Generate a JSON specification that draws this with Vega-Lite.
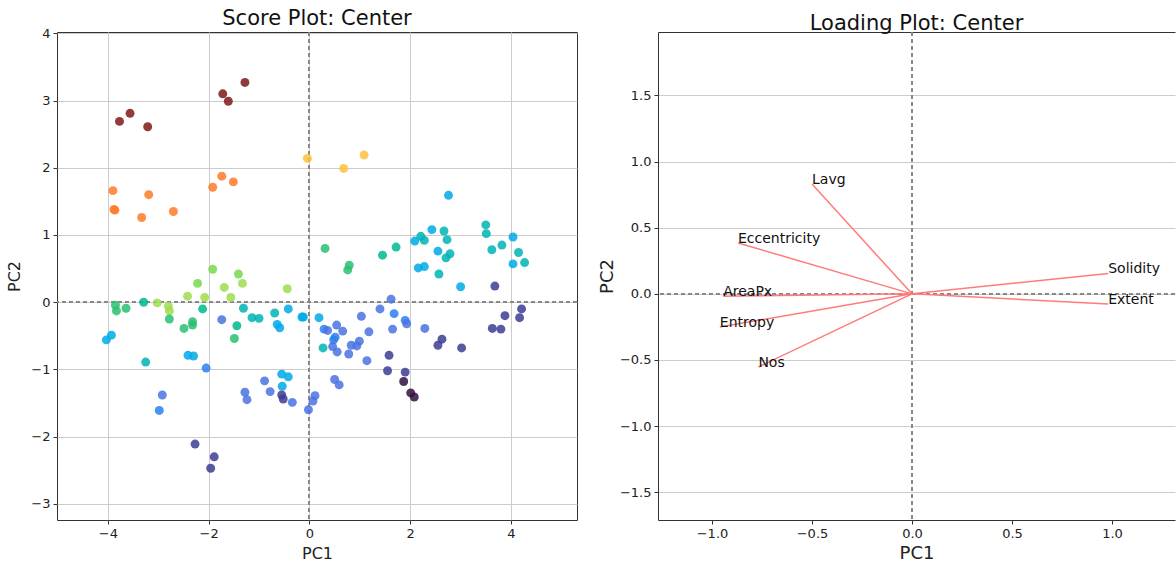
{
  "$schema": "https://vega.github.io/schema/vega-lite/v6.json",
  "padding": {"left": 6, "top": 7, "right": 0, "bottom": 0},
  "background": "white",
  "config": {
    "font": "DejaVu Sans",
    "view": {"stroke": "#333333", "strokeWidth": 1},
    "axis": {"domain": false, "grid": true, "gridColor": "#cccccc", "gridWidth": 1, "tickColor": "#333333", "tickSize": 4, "labelFontSize": 13, "labelColor": "#222222", "labelPadding": 3, "titleFontWeight": "normal", "titleColor": "#222222", "labelFont": "DejaVu Sans", "titleFont": "DejaVu Sans"},
    "title": {"fontSize": 21, "fontWeight": "normal", "color": "#111111", "font": "DejaVu Sans", "baseline": "alphabetic", "offset": -2}
  },
  "datasets": {
    "scores": [
      {"PC1": -1.28, "PC2": 3.27, "value": 1.0}, {"PC1": -1.72, "PC2": 3.10, "value": 1.0}, {"PC1": -1.61, "PC2": 2.99, "value": 1.0},
      {"PC1": -3.56, "PC2": 2.81, "value": 1.0}, {"PC1": -3.77, "PC2": 2.69, "value": 1.0}, {"PC1": -3.21, "PC2": 2.61, "value": 1.0},
      {"PC1": -1.74, "PC2": 1.875, "value": 0.95}, {"PC1": -1.51, "PC2": 1.79, "value": 0.95}, {"PC1": -1.92, "PC2": 1.71, "value": 0.95},
      {"PC1": -3.90, "PC2": 1.66, "value": 0.95}, {"PC1": -3.19, "PC2": 1.60, "value": 0.95}, {"PC1": -3.88, "PC2": 1.38, "value": 0.95},
      {"PC1": -3.86, "PC2": 1.37, "value": 0.95}, {"PC1": -3.33, "PC2": 1.26, "value": 0.95}, {"PC1": -2.70, "PC2": 1.35, "value": 0.95},
      {"PC1": -0.04, "PC2": 2.14, "value": 0.9}, {"PC1": 0.68, "PC2": 1.99, "value": 0.9}, {"PC1": 1.085, "PC2": 2.19, "value": 0.9},
      {"PC1": -1.92, "PC2": 0.49, "value": 0.8}, {"PC1": -1.41, "PC2": 0.42, "value": 0.8}, {"PC1": -2.22, "PC2": 0.28, "value": 0.8},
      {"PC1": -1.33, "PC2": 0.28, "value": 0.85}, {"PC1": -1.69, "PC2": 0.22, "value": 0.85}, {"PC1": -2.42, "PC2": 0.09, "value": 0.85},
      {"PC1": -2.08, "PC2": 0.07, "value": 0.85}, {"PC1": -1.56, "PC2": 0.07, "value": 0.85}, {"PC1": -0.44, "PC2": 0.20, "value": 0.85},
      {"PC1": -3.02, "PC2": -0.01, "value": 0.85}, {"PC1": -2.80, "PC2": -0.06, "value": 0.85}, {"PC1": -2.78, "PC2": -0.13, "value": 0.85},
      {"PC1": -3.85, "PC2": -0.045, "value": 0.7}, {"PC1": -3.83, "PC2": -0.13, "value": 0.7}, {"PC1": -3.64, "PC2": -0.09, "value": 0.7},
      {"PC1": -2.78, "PC2": -0.25, "value": 0.7}, {"PC1": -2.32, "PC2": -0.29, "value": 0.7}, {"PC1": -2.32, "PC2": -0.34, "value": 0.7},
      {"PC1": -2.49, "PC2": -0.39, "value": 0.7}, {"PC1": -1.49, "PC2": -0.54, "value": 0.7}, {"PC1": 0.31, "PC2": 0.80, "value": 0.7},
      {"PC1": 0.79, "PC2": 0.55, "value": 0.7}, {"PC1": 0.76, "PC2": 0.48, "value": 0.7},
      {"PC1": -3.29, "PC2": 0.0, "value": 0.6}, {"PC1": -2.12, "PC2": -0.10, "value": 0.6}, {"PC1": -1.44, "PC2": -0.35, "value": 0.6},
      {"PC1": 1.72, "PC2": 0.82, "value": 0.6}, {"PC1": 1.45, "PC2": 0.70, "value": 0.6},
      {"PC1": -1.31, "PC2": -0.09, "value": 0.5}, {"PC1": -1.14, "PC2": -0.23, "value": 0.5}, {"PC1": -1.00, "PC2": -0.24, "value": 0.5},
      {"PC1": -0.69, "PC2": -0.16, "value": 0.5}, {"PC1": -3.25, "PC2": -0.89, "value": 0.5}, {"PC1": 0.27, "PC2": -0.68, "value": 0.5},
      {"PC1": 2.57, "PC2": 0.42, "value": 0.5}, {"PC1": 3.50, "PC2": 1.15, "value": 0.5}, {"PC1": 3.51, "PC2": 1.02, "value": 0.5},
      {"PC1": 3.82, "PC2": 0.85, "value": 0.5}, {"PC1": 3.62, "PC2": 0.78, "value": 0.5}, {"PC1": 4.15, "PC2": 0.74, "value": 0.5},
      {"PC1": 4.27, "PC2": 0.59, "value": 0.5}, {"PC1": 2.67, "PC2": 1.06, "value": 0.5}, {"PC1": 2.73, "PC2": 0.93, "value": 0.5},
      {"PC1": 2.21, "PC2": 0.98, "value": 0.5}, {"PC1": 2.28, "PC2": 0.92, "value": 0.5}, {"PC1": 2.79, "PC2": 0.72, "value": 0.5},
      {"PC1": 2.71, "PC2": 0.66, "value": 0.5},
      {"PC1": -0.42, "PC2": -0.10, "value": 0.4}, {"PC1": -0.64, "PC2": -0.33, "value": 0.4}, {"PC1": -0.59, "PC2": -0.38, "value": 0.4},
      {"PC1": -0.15, "PC2": -0.22, "value": 0.4}, {"PC1": -0.12, "PC2": -0.22, "value": 0.4}, {"PC1": 0.19, "PC2": -0.23, "value": 0.4},
      {"PC1": -4.03, "PC2": -0.56, "value": 0.4}, {"PC1": -3.93, "PC2": -0.49, "value": 0.4}, {"PC1": -2.41, "PC2": -0.79, "value": 0.4},
      {"PC1": -2.30, "PC2": -0.80, "value": 0.4}, {"PC1": 3.00, "PC2": 0.23, "value": 0.4}, {"PC1": 2.76, "PC2": 1.59, "value": 0.4},
      {"PC1": 2.43, "PC2": 1.08, "value": 0.4}, {"PC1": 2.09, "PC2": 0.91, "value": 0.4}, {"PC1": 2.55, "PC2": 0.76, "value": 0.4},
      {"PC1": 2.16, "PC2": 0.51, "value": 0.4}, {"PC1": 2.28, "PC2": 0.53, "value": 0.4}, {"PC1": 4.04, "PC2": 0.97, "value": 0.4},
      {"PC1": 4.04, "PC2": 0.57, "value": 0.4}, {"PC1": -0.55, "PC2": -1.07, "value": 0.4}, {"PC1": -0.42, "PC2": -1.11, "value": 0.4},
      {"PC1": -0.54, "PC2": -1.25, "value": 0.4},
      {"PC1": -2.05, "PC2": -0.98, "value": 0.3}, {"PC1": -2.98, "PC2": -1.61, "value": 0.3}, {"PC1": 1.90, "PC2": -0.27, "value": 0.3},
      {"PC1": 0.29, "PC2": -0.40, "value": 0.3}, {"PC1": 0.51, "PC2": -0.52, "value": 0.3}, {"PC1": 0.48, "PC2": -0.56, "value": 0.3},
      {"PC1": 1.68, "PC2": -0.17, "value": 0.3},
      {"PC1": 1.62, "PC2": 0.045, "value": 0.2}, {"PC1": 1.40, "PC2": -0.10, "value": 0.2}, {"PC1": 1.03, "PC2": -0.21, "value": 0.2},
      {"PC1": 1.93, "PC2": -0.32, "value": 0.2}, {"PC1": 2.29, "PC2": -0.39, "value": 0.2}, {"PC1": 1.65, "PC2": -0.40, "value": 0.2},
      {"PC1": 1.18, "PC2": -0.44, "value": 0.2}, {"PC1": 0.54, "PC2": -0.34, "value": 0.2}, {"PC1": 0.36, "PC2": -0.42, "value": 0.2},
      {"PC1": 0.66, "PC2": -0.43, "value": 0.2}, {"PC1": 0.99, "PC2": -0.58, "value": 0.2}, {"PC1": 0.83, "PC2": -0.64, "value": 0.2},
      {"PC1": 0.94, "PC2": -0.65, "value": 0.2}, {"PC1": 0.46, "PC2": -0.66, "value": 0.2}, {"PC1": 0.55, "PC2": -0.74, "value": 0.2},
      {"PC1": 0.78, "PC2": -0.77, "value": 0.2}, {"PC1": 1.14, "PC2": -0.87, "value": 0.2}, {"PC1": -1.74, "PC2": -0.26, "value": 0.2},
      {"PC1": -2.92, "PC2": -1.38, "value": 0.2}, {"PC1": -0.89, "PC2": -1.17, "value": 0.2}, {"PC1": -0.78, "PC2": -1.33, "value": 0.2},
      {"PC1": -1.28, "PC2": -1.34, "value": 0.2}, {"PC1": -1.24, "PC2": -1.45, "value": 0.2}, {"PC1": -0.34, "PC2": -1.49, "value": 0.2},
      {"PC1": 0.50, "PC2": -1.15, "value": 0.2}, {"PC1": 0.59, "PC2": -1.23, "value": 0.2}, {"PC1": 0.11, "PC2": -1.39, "value": 0.2},
      {"PC1": 0.07, "PC2": -1.47, "value": 0.2}, {"PC1": -0.02, "PC2": -1.60, "value": 0.2},
      {"PC1": 3.68, "PC2": 0.24, "value": 0.1}, {"PC1": 2.55, "PC2": -0.64, "value": 0.1}, {"PC1": 2.63, "PC2": -0.55, "value": 0.1},
      {"PC1": 3.02, "PC2": -0.68, "value": 0.1}, {"PC1": 3.63, "PC2": -0.39, "value": 0.1}, {"PC1": 3.80, "PC2": -0.40, "value": 0.1},
      {"PC1": 3.88, "PC2": -0.20, "value": 0.1}, {"PC1": 4.17, "PC2": -0.23, "value": 0.1}, {"PC1": 4.21, "PC2": -0.10, "value": 0.1},
      {"PC1": 1.58, "PC2": -0.79, "value": 0.1}, {"PC1": 1.55, "PC2": -1.02, "value": 0.1}, {"PC1": 1.90, "PC2": -1.04, "value": 0.1},
      {"PC1": -2.27, "PC2": -2.11, "value": 0.1}, {"PC1": -1.89, "PC2": -2.30, "value": 0.1}, {"PC1": -1.96, "PC2": -2.47, "value": 0.1},
      {"PC1": -0.55, "PC2": -1.38, "value": 0.1}, {"PC1": -0.52, "PC2": -1.44, "value": 0.1},
      {"PC1": 1.87, "PC2": -1.18, "value": 0.0}, {"PC1": 2.01, "PC2": -1.35, "value": 0.0}, {"PC1": 2.08, "PC2": -1.41, "value": 0.0}
    ],
    "loadings": [
      {"name": "Lavg", "PC1": -0.50, "PC2": 0.83},
      {"name": "Eccentricity", "PC1": -0.87, "PC2": 0.385},
      {"name": "AreaPx", "PC1": -0.944, "PC2": -0.018},
      {"name": "Entropy", "PC1": -0.961, "PC2": -0.25},
      {"name": "Nos", "PC1": -0.768, "PC2": -0.553},
      {"name": "Solidity", "PC1": 0.981, "PC2": 0.154},
      {"name": "Extent", "PC1": 0.981, "PC2": -0.076}
    ]
  },
  "hconcat": [
    {
      "width": 520,
      "height": 488,
      "title": {"text": "Score Plot: Center"},
      "data": {"name": "scores"},
      "layer": [
        {
          "mark": {"type": "rule", "strokeDash": [4, 3], "color": "#888888", "strokeWidth": 1},
          "encoding": {"x": {"datum": 0, "type": "quantitative"}}
        },
        {
          "mark": {"type": "rule", "strokeDash": [4, 3], "color": "#888888", "strokeWidth": 1},
          "encoding": {"y": {"datum": 0, "type": "quantitative"}}
        },
        {
          "mark": {"type": "circle", "size": 80, "opacity": 0.85},
          "encoding": {
            "x": {"field": "PC1", "type": "quantitative", "scale": {"domain": [-5.01, 5.31], "nice": false, "zero": false},
                  "axis": {"values": [-4, -2, 0, 2, 4], "format": "d", "title": "PC1", "titleFontSize": 16, "titlePadding": 5}},
            "y": {"field": "PC2", "type": "quantitative", "scale": {"domain": [-3.24, 4.02], "nice": false, "zero": false},
                  "axis": {"values": [-3, -2, -1, 0, 1, 2, 3, 4], "format": "d", "title": "PC2", "titleFontSize": 16, "titlePadding": 8}},
            "color": {"field": "value", "type": "quantitative", "legend": null,
                      "scale": {"domain": [0, 0.1, 0.2, 0.3, 0.4, 0.5, 0.6, 0.7, 0.8, 0.85, 0.9, 0.95, 1.0],
                                "range": ["#301040", "#3c3c94", "#4a72e0", "#2a80f0", "#00aae6", "#00b4b4", "#00b890", "#28c070", "#78d850", "#a0dc50", "#ffc040", "#ff7a28", "#801818"]}}
          }
        }
      ]
    },
    {
      "width": 517,
      "height": 488,
      "title": {"text": "Loading Plot: Center"},
      "view": {"stroke": null},
      "data": {"name": "loadings"},
      "resolve": {"axis": {"x": "independent"}},
      "layer": [
        {
          "mark": {"type": "rule", "strokeDash": [4, 3], "color": "#888888", "strokeWidth": 1},
          "encoding": {"y": {"datum": 0, "type": "quantitative"}}
        },
        {
          "mark": {"type": "rule", "strokeDash": [4, 3], "color": "#888888", "strokeWidth": 1},
          "encoding": {"x": {"datum": 0, "type": "quantitative",
                             "axis": {"orient": "top", "labels": false, "ticks": false, "grid": false, "domain": true, "domainColor": "#333333", "title": null}}}
        },
        {
          "mark": {"type": "rule", "color": "#ff7b7b", "strokeWidth": 1.5},
          "encoding": {
            "x": {"field": "PC1", "type": "quantitative", "scale": {"domain": [-1.27, 1.315], "nice": false, "zero": false},
                  "axis": {"values": [-1, -0.5, 0, 0.5, 1], "format": ".1f", "title": "PC1", "titleFontSize": 18, "titlePadding": 4, "domain": true, "domainColor": "#333333"}},
            "x2": {"datum": 0},
            "y": {"field": "PC2", "type": "quantitative", "scale": {"domain": [-1.71, 1.98], "nice": false, "zero": false},
                  "axis": {"values": [-1.5, -1, -0.5, 0, 0.5, 1, 1.5], "format": ".1f", "title": "PC2", "titleFontSize": 18, "titlePadding": 3, "domain": true, "domainColor": "#333333"}},
            "y2": {"datum": 0}
          }
        },
        {
          "mark": {"type": "text", "align": "left", "baseline": "alphabetic", "fontSize": 14, "color": "#111111"},
          "encoding": {
            "x": {"field": "PC1", "type": "quantitative", "axis": null},
            "y": {"field": "PC2", "type": "quantitative"},
            "text": {"field": "name"}
          }
        }
      ]
    }
  ],
  "spacing": 81,
  "bounds": "flush"
}
